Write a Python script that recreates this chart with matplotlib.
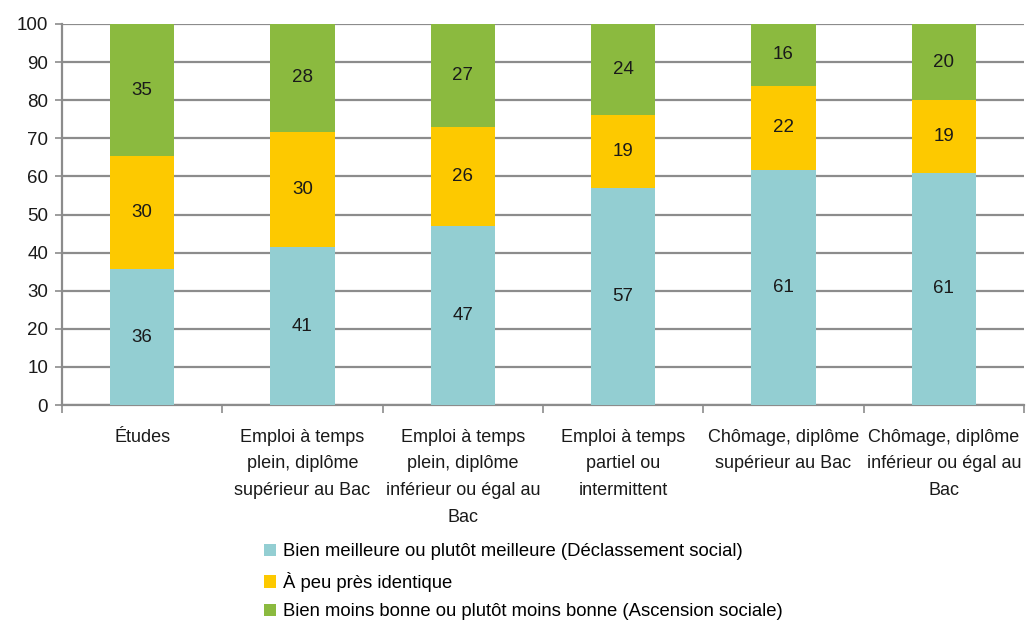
import numpy as np
import matplotlib
matplotlib.use('Agg')
import matplotlib.pyplot as plt

plt.rcParams['font.family'] = ['Liberation Sans', 'DejaVu Sans']

categories = ['Études',
              'Emploi à temps\nplein, diplôme\nsupérieur au Bac',
              'Emploi à temps\nplein, diplôme\ninférieur ou égal au\nBac',
              'Emploi à temps\npartiel ou\nintermittent',
              'Chômage, diplôme\nsupérieur au Bac',
              'Chômage, diplôme\ninférieur ou égal au\nBac']
meilleure = [36, 41, 47, 57, 61, 61]
identique = [30, 30, 26, 19, 22, 19]
moins_bonne = [35, 28, 27, 24, 16, 20]
series_names = ['Bien meilleure ou plutôt meilleure (Déclassement social)',
                'À peu près identique',
                'Bien moins bonne ou plutôt moins bonne (Ascension sociale)']
colors = ['#93CED2', '#FDC900', '#8BBA3F']

# 100 % stacked, labels show the raw values
raw = np.array([meilleure, identique, moins_bonne], dtype=float)
pct = raw / raw.sum(axis=0) * 100

fig = plt.figure(figsize=(10.26, 6.24), dpi=100)
ax = fig.add_axes([62/1026, 1-405/624, (1024-62)/1026, (405-24)/624])

x = np.arange(len(categories))
bottom = np.zeros(len(categories))
handles = []
for i in range(3):
    b = ax.bar(x, pct[i], 0.4, bottom=bottom, color=colors[i], zorder=3,
               label=series_names[i])
    handles.append(b)
    for j in range(len(categories)):
        ax.text(x[j], bottom[j] + pct[i][j] / 2, '%d' % raw[i][j],
                ha='center', va='center', fontsize=13.5, color='#1a1a1a', zorder=4)
    bottom += pct[i]

ax.set_xlim(-0.5, len(categories) - 0.5)
ax.set_ylim(0, 100)
ax.set_yticks(np.arange(0, 101, 10))
ax.yaxis.grid(True, color='#8c8c8c', linewidth=1.6, zorder=0)
ax.set_xticks(np.arange(-0.5, len(categories), 1))
ax.set_xticklabels([])
ax.set_xticks(x, minor=True)
ax.set_xticklabels(categories, minor=True, fontsize=13, linespacing=1.75,
                   color='#1a1a1a')
ax.tick_params(axis='x', which='minor', length=0, pad=17)
ax.tick_params(axis='x', which='major', length=6, width=1.2, color='#8c8c8c')
ax.tick_params(axis='y', length=5, width=1.2, color='#8c8c8c', labelsize=13.5,
               labelcolor='#1a1a1a', pad=5)

for s in ['top', 'right']:
    ax.spines[s].set_visible(False)
for s in ['left', 'bottom']:
    ax.spines[s].set_color('#8c8c8c')
    ax.spines[s].set_linewidth(1.6)

fig.legend(handles=handles, loc='upper left', bbox_to_anchor=(257/1026, 1-536/624),
           frameon=False, fontsize=13.3, handlelength=0.65, handleheight=0.65,
           handletextpad=0.35, labelspacing=0.62, borderaxespad=0)

fig.savefig('out.png', dpi=100)
